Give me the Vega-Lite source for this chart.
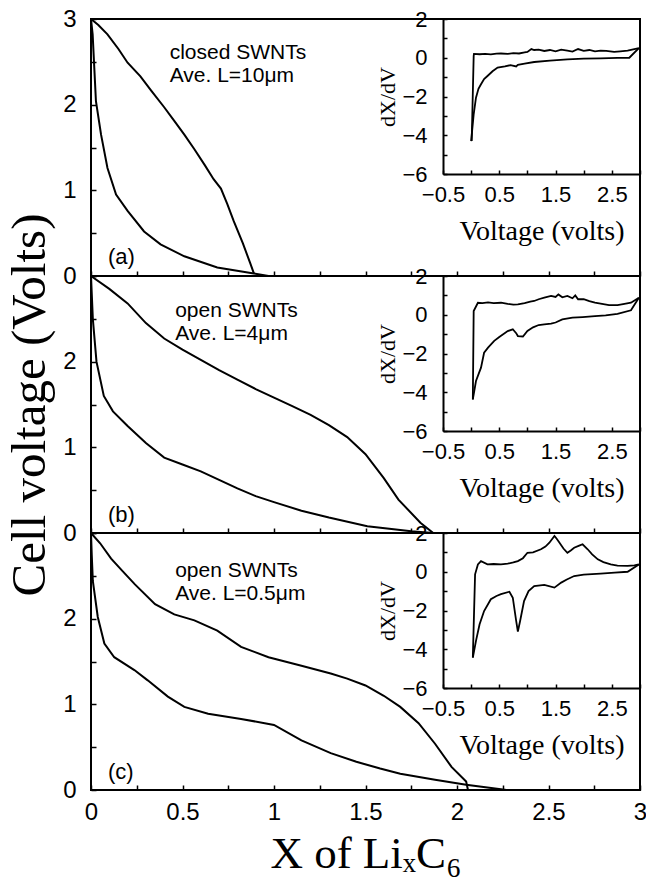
{
  "$schema": "https://vega.github.io/schema/vega-lite/v6.json",
  "background": "white",
  "padding": {"left": 4, "top": 6, "right": 0, "bottom": 0},
  "spacing": 0,
  "bounds": "flush",
  "config": {
    "view": {"stroke": "black", "strokeWidth": 2},
    "axis": {"grid": false, "domainColor": "black", "tickColor": "black", "labelColor": "black", "titleColor": "black", "labelFont": "Liberation Sans", "titleFont": "Liberation Serif", "titleFontWeight": "normal", "domainWidth": 2, "tickWidth": 1.5, "labelFlush": false, "labelOverlap": false, "format": "~g"},
    "line": {"color": "black", "strokeWidth": 2},
    "text": {"font": "Liberation Sans", "color": "black"}
  },
  "datasets": {
    "main": [
      {"panel": "a", "curve": "up", "x": 0, "y": 3}, {"panel": "a", "curve": "up", "x": 0.04, "y": 2.93}, {"panel": "a", "curve": "up", "x": 0.09, "y": 2.82}, {"panel": "a", "curve": "up", "x": 0.15, "y": 2.65}, {"panel": "a", "curve": "up", "x": 0.2, "y": 2.49}, {"panel": "a", "curve": "up", "x": 0.27, "y": 2.33}, {"panel": "a", "curve": "up", "x": 0.33, "y": 2.16}, {"panel": "a", "curve": "up", "x": 0.4, "y": 1.97}, {"panel": "a", "curve": "up", "x": 0.455, "y": 1.81}, {"panel": "a", "curve": "up", "x": 0.51, "y": 1.65}, {"panel": "a", "curve": "up", "x": 0.565, "y": 1.48}, {"panel": "a", "curve": "up", "x": 0.62, "y": 1.3}, {"panel": "a", "curve": "up", "x": 0.67, "y": 1.13}, {"panel": "a", "curve": "up", "x": 0.71, "y": 1.02}, {"panel": "a", "curve": "up", "x": 0.745, "y": 0.84}, {"panel": "a", "curve": "up", "x": 0.78, "y": 0.64}, {"panel": "a", "curve": "up", "x": 0.83, "y": 0.38}, {"panel": "a", "curve": "up", "x": 0.87, "y": 0.15}, {"panel": "a", "curve": "up", "x": 0.89, "y": 0.03},
      {"panel": "a", "curve": "low", "x": 0, "y": 3}, {"panel": "a", "curve": "low", "x": 0.009, "y": 2.82}, {"panel": "a", "curve": "low", "x": 0.018, "y": 2.43}, {"panel": "a", "curve": "low", "x": 0.027, "y": 2.04}, {"panel": "a", "curve": "low", "x": 0.055, "y": 1.65}, {"panel": "a", "curve": "low", "x": 0.09, "y": 1.26}, {"panel": "a", "curve": "low", "x": 0.137, "y": 0.95}, {"panel": "a", "curve": "low", "x": 0.2, "y": 0.76}, {"panel": "a", "curve": "low", "x": 0.29, "y": 0.52}, {"panel": "a", "curve": "low", "x": 0.38, "y": 0.37}, {"panel": "a", "curve": "low", "x": 0.51, "y": 0.23}, {"panel": "a", "curve": "low", "x": 0.69, "y": 0.1}, {"panel": "a", "curve": "low", "x": 0.89, "y": 0.03}, {"panel": "a", "curve": "low", "x": 0.97, "y": 0.0},
      {"panel": "b", "curve": "up", "x": 0, "y": 3}, {"panel": "b", "curve": "up", "x": 0.1, "y": 2.85}, {"panel": "b", "curve": "up", "x": 0.2, "y": 2.68}, {"panel": "b", "curve": "up", "x": 0.3, "y": 2.45}, {"panel": "b", "curve": "up", "x": 0.4, "y": 2.27}, {"panel": "b", "curve": "up", "x": 0.5, "y": 2.14}, {"panel": "b", "curve": "up", "x": 0.6, "y": 2.02}, {"panel": "b", "curve": "up", "x": 0.7, "y": 1.9}, {"panel": "b", "curve": "up", "x": 0.8, "y": 1.79}, {"panel": "b", "curve": "up", "x": 0.9, "y": 1.68}, {"panel": "b", "curve": "up", "x": 1.0, "y": 1.58}, {"panel": "b", "curve": "up", "x": 1.1, "y": 1.48}, {"panel": "b", "curve": "up", "x": 1.2, "y": 1.38}, {"panel": "b", "curve": "up", "x": 1.3, "y": 1.26}, {"panel": "b", "curve": "up", "x": 1.4, "y": 1.12}, {"panel": "b", "curve": "up", "x": 1.5, "y": 0.92}, {"panel": "b", "curve": "up", "x": 1.6, "y": 0.64}, {"panel": "b", "curve": "up", "x": 1.68, "y": 0.39}, {"panel": "b", "curve": "up", "x": 1.8, "y": 0.12}, {"panel": "b", "curve": "up", "x": 1.87, "y": 0.0},
      {"panel": "b", "curve": "low", "x": 0, "y": 3}, {"panel": "b", "curve": "low", "x": 0.01, "y": 2.5}, {"panel": "b", "curve": "low", "x": 0.03, "y": 2.0}, {"panel": "b", "curve": "low", "x": 0.07, "y": 1.6}, {"panel": "b", "curve": "low", "x": 0.12, "y": 1.42}, {"panel": "b", "curve": "low", "x": 0.2, "y": 1.25}, {"panel": "b", "curve": "low", "x": 0.3, "y": 1.05}, {"panel": "b", "curve": "low", "x": 0.4, "y": 0.88}, {"panel": "b", "curve": "low", "x": 0.5, "y": 0.8}, {"panel": "b", "curve": "low", "x": 0.6, "y": 0.72}, {"panel": "b", "curve": "low", "x": 0.7, "y": 0.62}, {"panel": "b", "curve": "low", "x": 0.8, "y": 0.52}, {"panel": "b", "curve": "low", "x": 0.9, "y": 0.43}, {"panel": "b", "curve": "low", "x": 1.0, "y": 0.36}, {"panel": "b", "curve": "low", "x": 1.15, "y": 0.26}, {"panel": "b", "curve": "low", "x": 1.3, "y": 0.18}, {"panel": "b", "curve": "low", "x": 1.51, "y": 0.08}, {"panel": "b", "curve": "low", "x": 1.75, "y": 0.02}, {"panel": "b", "curve": "low", "x": 1.87, "y": 0.0},
      {"panel": "c", "curve": "up", "x": 0, "y": 3}, {"panel": "c", "curve": "up", "x": 0.05, "y": 2.88}, {"panel": "c", "curve": "up", "x": 0.11, "y": 2.7}, {"panel": "c", "curve": "up", "x": 0.17, "y": 2.56}, {"panel": "c", "curve": "up", "x": 0.24, "y": 2.4}, {"panel": "c", "curve": "up", "x": 0.35, "y": 2.17}, {"panel": "c", "curve": "up", "x": 0.455, "y": 2.05}, {"panel": "c", "curve": "up", "x": 0.565, "y": 1.98}, {"panel": "c", "curve": "up", "x": 0.69, "y": 1.86}, {"panel": "c", "curve": "up", "x": 0.82, "y": 1.67}, {"panel": "c", "curve": "up", "x": 0.97, "y": 1.55}, {"panel": "c", "curve": "up", "x": 1.15, "y": 1.45}, {"panel": "c", "curve": "up", "x": 1.31, "y": 1.36}, {"panel": "c", "curve": "up", "x": 1.4, "y": 1.3}, {"panel": "c", "curve": "up", "x": 1.5, "y": 1.22}, {"panel": "c", "curve": "up", "x": 1.6, "y": 1.1}, {"panel": "c", "curve": "up", "x": 1.69, "y": 0.97}, {"panel": "c", "curve": "up", "x": 1.79, "y": 0.78}, {"panel": "c", "curve": "up", "x": 1.88, "y": 0.54}, {"panel": "c", "curve": "up", "x": 1.97, "y": 0.27}, {"panel": "c", "curve": "up", "x": 2.05, "y": 0.1}, {"panel": "c", "curve": "up", "x": 2.06, "y": 0.0},
      {"panel": "c", "curve": "low", "x": 0, "y": 3}, {"panel": "c", "curve": "low", "x": 0.004, "y": 2.75}, {"panel": "c", "curve": "low", "x": 0.01, "y": 2.44}, {"panel": "c", "curve": "low", "x": 0.037, "y": 2.02}, {"panel": "c", "curve": "low", "x": 0.073, "y": 1.71}, {"panel": "c", "curve": "low", "x": 0.127, "y": 1.55}, {"panel": "c", "curve": "low", "x": 0.237, "y": 1.4}, {"panel": "c", "curve": "low", "x": 0.31, "y": 1.28}, {"panel": "c", "curve": "low", "x": 0.42, "y": 1.09}, {"panel": "c", "curve": "low", "x": 0.51, "y": 0.97}, {"panel": "c", "curve": "low", "x": 0.64, "y": 0.89}, {"panel": "c", "curve": "low", "x": 0.82, "y": 0.83}, {"panel": "c", "curve": "low", "x": 1.0, "y": 0.76}, {"panel": "c", "curve": "low", "x": 1.15, "y": 0.58}, {"panel": "c", "curve": "low", "x": 1.31, "y": 0.43}, {"panel": "c", "curve": "low", "x": 1.45, "y": 0.33}, {"panel": "c", "curve": "low", "x": 1.58, "y": 0.25}, {"panel": "c", "curve": "low", "x": 1.69, "y": 0.19}, {"panel": "c", "curve": "low", "x": 1.88, "y": 0.12}, {"panel": "c", "curve": "low", "x": 2.05, "y": 0.06}, {"panel": "c", "curve": "low", "x": 2.24, "y": 0.01}, {"panel": "c", "curve": "low", "x": 2.27, "y": 0.0}
    ],
    "inset": [
      {"panel": "a", "branch": "up", "v": 0.01, "d": -4.3}, {"panel": "a", "branch": "up", "v": 0.045, "d": 0.09}, {"panel": "a", "branch": "up", "v": 0.05, "d": 0.2}, {"panel": "a", "branch": "up", "v": 0.15, "d": 0.18}, {"panel": "a", "branch": "up", "v": 0.25, "d": 0.2}, {"panel": "a", "branch": "up", "v": 0.35, "d": 0.17}, {"panel": "a", "branch": "up", "v": 0.45, "d": 0.21}, {"panel": "a", "branch": "up", "v": 0.53, "d": 0.22}, {"panel": "a", "branch": "up", "v": 0.65, "d": 0.2}, {"panel": "a", "branch": "up", "v": 0.75, "d": 0.24}, {"panel": "a", "branch": "up", "v": 0.85, "d": 0.22}, {"panel": "a", "branch": "up", "v": 0.95, "d": 0.28}, {"panel": "a", "branch": "up", "v": 1.0, "d": 0.3}, {"panel": "a", "branch": "up", "v": 1.07, "d": 0.45}, {"panel": "a", "branch": "up", "v": 1.12, "d": 0.4}, {"panel": "a", "branch": "up", "v": 1.2, "d": 0.42}, {"panel": "a", "branch": "up", "v": 1.3, "d": 0.35}, {"panel": "a", "branch": "up", "v": 1.4, "d": 0.4}, {"panel": "a", "branch": "up", "v": 1.5, "d": 0.33}, {"panel": "a", "branch": "up", "v": 1.6, "d": 0.42}, {"panel": "a", "branch": "up", "v": 1.71, "d": 0.37}, {"panel": "a", "branch": "up", "v": 1.8, "d": 0.32}, {"panel": "a", "branch": "up", "v": 1.9, "d": 0.45}, {"panel": "a", "branch": "up", "v": 2.0, "d": 0.36}, {"panel": "a", "branch": "up", "v": 2.1, "d": 0.4}, {"panel": "a", "branch": "up", "v": 2.2, "d": 0.33}, {"panel": "a", "branch": "up", "v": 2.3, "d": 0.37}, {"panel": "a", "branch": "up", "v": 2.4, "d": 0.35}, {"panel": "a", "branch": "up", "v": 2.54, "d": 0.3}, {"panel": "a", "branch": "up", "v": 2.65, "d": 0.33}, {"panel": "a", "branch": "up", "v": 2.78, "d": 0.37}, {"panel": "a", "branch": "up", "v": 2.9, "d": 0.45}, {"panel": "a", "branch": "up", "v": 2.98, "d": 0.5},
      {"panel": "a", "branch": "low", "v": 0.0, "d": -4.3}, {"panel": "a", "branch": "low", "v": 0.045, "d": -2.92}, {"panel": "a", "branch": "low", "v": 0.086, "d": -2.06}, {"panel": "a", "branch": "low", "v": 0.13, "d": -1.6}, {"panel": "a", "branch": "low", "v": 0.175, "d": -1.37}, {"panel": "a", "branch": "low", "v": 0.23, "d": -1.1}, {"panel": "a", "branch": "low", "v": 0.29, "d": -0.94}, {"panel": "a", "branch": "low", "v": 0.38, "d": -0.7}, {"panel": "a", "branch": "low", "v": 0.47, "d": -0.51}, {"panel": "a", "branch": "low", "v": 0.6, "d": -0.45}, {"panel": "a", "branch": "low", "v": 0.7, "d": -0.38}, {"panel": "a", "branch": "low", "v": 0.8, "d": -0.45}, {"panel": "a", "branch": "low", "v": 0.83, "d": -0.37}, {"panel": "a", "branch": "low", "v": 0.95, "d": -0.3}, {"panel": "a", "branch": "low", "v": 1.12, "d": -0.22}, {"panel": "a", "branch": "low", "v": 1.4, "d": -0.15}, {"panel": "a", "branch": "low", "v": 1.71, "d": -0.08}, {"panel": "a", "branch": "low", "v": 2.0, "d": -0.05}, {"panel": "a", "branch": "low", "v": 2.3, "d": -0.03}, {"panel": "a", "branch": "low", "v": 2.6, "d": -0.01}, {"panel": "a", "branch": "low", "v": 2.81, "d": 0.0}, {"panel": "a", "branch": "low", "v": 2.98, "d": 0.5},
      {"panel": "b", "branch": "up", "v": 0.03, "d": -4.37}, {"panel": "b", "branch": "up", "v": 0.045, "d": 0.19}, {"panel": "b", "branch": "up", "v": 0.12, "d": 0.62}, {"panel": "b", "branch": "up", "v": 0.2, "d": 0.6}, {"panel": "b", "branch": "up", "v": 0.3, "d": 0.64}, {"panel": "b", "branch": "up", "v": 0.4, "d": 0.6}, {"panel": "b", "branch": "up", "v": 0.53, "d": 0.62}, {"panel": "b", "branch": "up", "v": 0.65, "d": 0.56}, {"panel": "b", "branch": "up", "v": 0.75, "d": 0.52}, {"panel": "b", "branch": "up", "v": 0.83, "d": 0.54}, {"panel": "b", "branch": "up", "v": 0.95, "d": 0.6}, {"panel": "b", "branch": "up", "v": 1.05, "d": 0.68}, {"panel": "b", "branch": "up", "v": 1.12, "d": 0.71}, {"panel": "b", "branch": "up", "v": 1.2, "d": 0.8}, {"panel": "b", "branch": "up", "v": 1.3, "d": 0.88}, {"panel": "b", "branch": "up", "v": 1.42, "d": 0.97}, {"panel": "b", "branch": "up", "v": 1.5, "d": 0.92}, {"panel": "b", "branch": "up", "v": 1.55, "d": 1.05}, {"panel": "b", "branch": "up", "v": 1.62, "d": 0.9}, {"panel": "b", "branch": "up", "v": 1.71, "d": 0.97}, {"panel": "b", "branch": "up", "v": 1.8, "d": 0.85}, {"panel": "b", "branch": "up", "v": 1.85, "d": 1.0}, {"panel": "b", "branch": "up", "v": 1.9, "d": 0.8}, {"panel": "b", "branch": "up", "v": 2.0, "d": 0.8}, {"panel": "b", "branch": "up", "v": 2.1, "d": 0.7}, {"panel": "b", "branch": "up", "v": 2.2, "d": 0.62}, {"panel": "b", "branch": "up", "v": 2.3, "d": 0.57}, {"panel": "b", "branch": "up", "v": 2.45, "d": 0.5}, {"panel": "b", "branch": "up", "v": 2.6, "d": 0.5}, {"panel": "b", "branch": "up", "v": 2.7, "d": 0.55}, {"panel": "b", "branch": "up", "v": 2.84, "d": 0.62}, {"panel": "b", "branch": "up", "v": 2.98, "d": 0.88},
      {"panel": "b", "branch": "low", "v": 0.03, "d": -4.37}, {"panel": "b", "branch": "low", "v": 0.086, "d": -3.42}, {"panel": "b", "branch": "low", "v": 0.175, "d": -2.73}, {"panel": "b", "branch": "low", "v": 0.23, "d": -1.96}, {"panel": "b", "branch": "low", "v": 0.3, "d": -1.7}, {"panel": "b", "branch": "low", "v": 0.41, "d": -1.35}, {"panel": "b", "branch": "low", "v": 0.5, "d": -1.15}, {"panel": "b", "branch": "low", "v": 0.65, "d": -0.84}, {"panel": "b", "branch": "low", "v": 0.74, "d": -0.75}, {"panel": "b", "branch": "low", "v": 0.8, "d": -0.95}, {"panel": "b", "branch": "low", "v": 0.83, "d": -1.1}, {"panel": "b", "branch": "low", "v": 0.92, "d": -1.12}, {"panel": "b", "branch": "low", "v": 1.0, "d": -0.84}, {"panel": "b", "branch": "low", "v": 1.1, "d": -0.65}, {"panel": "b", "branch": "low", "v": 1.2, "d": -0.53}, {"panel": "b", "branch": "low", "v": 1.3, "d": -0.5}, {"panel": "b", "branch": "low", "v": 1.42, "d": -0.46}, {"panel": "b", "branch": "low", "v": 1.5, "d": -0.4}, {"panel": "b", "branch": "low", "v": 1.62, "d": -0.24}, {"panel": "b", "branch": "low", "v": 1.8, "d": -0.15}, {"panel": "b", "branch": "low", "v": 1.98, "d": -0.12}, {"panel": "b", "branch": "low", "v": 2.2, "d": -0.07}, {"panel": "b", "branch": "low", "v": 2.39, "d": -0.03}, {"panel": "b", "branch": "low", "v": 2.6, "d": 0.05}, {"panel": "b", "branch": "low", "v": 2.84, "d": 0.23}, {"panel": "b", "branch": "low", "v": 2.98, "d": 0.88},
      {"panel": "c", "branch": "up", "v": 0.03, "d": -4.43}, {"panel": "c", "branch": "up", "v": 0.07, "d": -0.13}, {"panel": "c", "branch": "up", "v": 0.12, "d": 0.38}, {"panel": "c", "branch": "up", "v": 0.175, "d": 0.55}, {"panel": "c", "branch": "up", "v": 0.29, "d": 0.38}, {"panel": "c", "branch": "up", "v": 0.4, "d": 0.4}, {"panel": "c", "branch": "up", "v": 0.53, "d": 0.38}, {"panel": "c", "branch": "up", "v": 0.65, "d": 0.42}, {"panel": "c", "branch": "up", "v": 0.75, "d": 0.48}, {"panel": "c", "branch": "up", "v": 0.83, "d": 0.55}, {"panel": "c", "branch": "up", "v": 0.92, "d": 0.7}, {"panel": "c", "branch": "up", "v": 1.0, "d": 0.98}, {"panel": "c", "branch": "up", "v": 1.1, "d": 1.0}, {"panel": "c", "branch": "up", "v": 1.24, "d": 1.16}, {"panel": "c", "branch": "up", "v": 1.32, "d": 1.3}, {"panel": "c", "branch": "up", "v": 1.39, "d": 1.5}, {"panel": "c", "branch": "up", "v": 1.48, "d": 1.85}, {"panel": "c", "branch": "up", "v": 1.52, "d": 1.7}, {"panel": "c", "branch": "up", "v": 1.57, "d": 1.5}, {"panel": "c", "branch": "up", "v": 1.64, "d": 1.2}, {"panel": "c", "branch": "up", "v": 1.71, "d": 0.98}, {"panel": "c", "branch": "up", "v": 1.77, "d": 1.1}, {"panel": "c", "branch": "up", "v": 1.83, "d": 1.24}, {"panel": "c", "branch": "up", "v": 1.92, "d": 1.35}, {"panel": "c", "branch": "up", "v": 1.98, "d": 1.42}, {"panel": "c", "branch": "up", "v": 2.07, "d": 1.16}, {"panel": "c", "branch": "up", "v": 2.15, "d": 0.9}, {"panel": "c", "branch": "up", "v": 2.25, "d": 0.64}, {"panel": "c", "branch": "up", "v": 2.35, "d": 0.5}, {"panel": "c", "branch": "up", "v": 2.48, "d": 0.38}, {"panel": "c", "branch": "up", "v": 2.6, "d": 0.32}, {"panel": "c", "branch": "up", "v": 2.78, "d": 0.3}, {"panel": "c", "branch": "up", "v": 2.9, "d": 0.33}, {"panel": "c", "branch": "up", "v": 2.98, "d": 0.38},
      {"panel": "c", "branch": "low", "v": 0.03, "d": -4.43}, {"panel": "c", "branch": "low", "v": 0.086, "d": -3.57}, {"panel": "c", "branch": "low", "v": 0.15, "d": -2.71}, {"panel": "c", "branch": "low", "v": 0.23, "d": -2.03}, {"panel": "c", "branch": "low", "v": 0.35, "d": -1.42}, {"panel": "c", "branch": "low", "v": 0.45, "d": -1.25}, {"panel": "c", "branch": "low", "v": 0.53, "d": -1.16}, {"panel": "c", "branch": "low", "v": 0.68, "d": -1.03}, {"panel": "c", "branch": "low", "v": 0.74, "d": -1.34}, {"panel": "c", "branch": "low", "v": 0.8, "d": -2.54}, {"panel": "c", "branch": "low", "v": 0.83, "d": -3.09}, {"panel": "c", "branch": "low", "v": 0.87, "d": -2.54}, {"panel": "c", "branch": "low", "v": 0.94, "d": -1.51}, {"panel": "c", "branch": "low", "v": 1.02, "d": -1.0}, {"panel": "c", "branch": "low", "v": 1.12, "d": -0.74}, {"panel": "c", "branch": "low", "v": 1.3, "d": -0.68}, {"panel": "c", "branch": "low", "v": 1.48, "d": -0.82}, {"panel": "c", "branch": "low", "v": 1.6, "d": -0.56}, {"panel": "c", "branch": "low", "v": 1.7, "d": -0.4}, {"panel": "c", "branch": "low", "v": 1.83, "d": -0.22}, {"panel": "c", "branch": "low", "v": 2.0, "d": -0.15}, {"panel": "c", "branch": "low", "v": 2.3, "d": -0.1}, {"panel": "c", "branch": "low", "v": 2.55, "d": -0.05}, {"panel": "c", "branch": "low", "v": 2.78, "d": 0.0}, {"panel": "c", "branch": "low", "v": 2.98, "d": 0.38}
    ],
    "notes": [
      {"panel": "a", "note": "closed SWNTs\nAve. L=10μm", "tag": "(a)"},
      {"panel": "b", "note": "open SWNTs\nAve. L=4μm", "tag": "(b)"},
      {"panel": "c", "note": "open SWNTs\nAve. L=0.5μm", "tag": "(c)"}
    ]
  },
  "vconcat": [
    {
      "width": 549, "height": 257,
      "resolve": {"scale": {"x": "independent", "y": "independent"}, "axis": {"x": "independent", "y": "independent"}},
      "layer": [
        {
          "layer": [
            {
              "data": {"name": "main"},
              "transform": [{"filter": "datum.panel == 'a'"}],
              "mark": {"type": "line"},
              "encoding": {
                "x": {"field": "x", "type": "quantitative", "scale": {"domain": [0, 3], "nice": false}, "axis": {"orient": "bottom", "values": [0, 0.25, 0.5, 0.75, 1, 1.25, 1.5, 1.75, 2, 2.25, 2.5, 2.75, 3], "labels": false, "tickSize": -5, "domain": false, "title": null}},
                "y": {"field": "y", "type": "quantitative", "scale": {"domain": [0, 3], "nice": false}, "axis": {"orient": "left", "values": [0, 0.5, 1, 1.5, 2, 2.5, 3], "labelExpr": "datum.value % 1 == 0 ? datum.label : ''", "tickSize": -5, "domain": false, "labelFontSize": 24, "labelPadding": 20, "title": null}},
                "detail": {"field": "curve"}
              }
            },
            {
              "data": {"name": "notes"},
              "transform": [{"filter": "datum.panel == 'a'"}],
              "mark": {"type": "text", "align": "left", "baseline": "middle", "fontSize": 21, "lineBreak": "\n", "lineHeight": 23},
              "encoding": {"x": {"datum": 0.43}, "y": {"datum": 2.6}, "text": {"field": "note"}}
            },
            {
              "data": {"name": "notes"},
              "transform": [{"filter": "datum.panel == 'a'"}],
              "mark": {"type": "text", "align": "left", "baseline": "middle", "fontSize": 22},
              "encoding": {"x": {"datum": 0.093}, "y": {"datum": 0.22}, "text": {"field": "tag"}}
            }
          ]
        },
        {
          "data": {"name": "inset"},
          "transform": [{"filter": "datum.panel == 'a'"}],
          "mark": {"type": "line", "strokeWidth": 1.8},
          "encoding": {
            "x": {"field": "v", "type": "quantitative", "scale": {"domain": [-0.5, 3], "range": [352, 549], "nice": false, "zero": false}, "axis": {"orient": "bottom", "offset": -102, "values": [-0.5, 0, 0.5, 1, 1.5, 2, 2.5, 3], "labelExpr": "(datum.value + 0.5) % 1 == 0 ? datum.label : ''", "tickSize": -4, "labelFontSize": 22, "labelPadding": 14, "title": "Voltage (volts)", "titleFontSize": 28, "titlePadding": 12}},
            "y": {"field": "d", "type": "quantitative", "scale": {"domain": [-6, 2], "range": [155, 0], "nice": false, "zero": false}, "axis": {"orient": "left", "offset": -352, "values": [-6, -5, -4, -3, -2, -1, 0, 1, 2], "labelExpr": "datum.value % 2 == 0 ? datum.label : ''", "tickSize": -4, "labelFontSize": 22, "labelPadding": 20, "title": "dX/dV", "titleFontSize": 22, "titlePadding": 2}},
            "detail": {"field": "branch"}
          }
        }
      ]
    },
    {
      "width": 549, "height": 257,
      "resolve": {"scale": {"x": "independent", "y": "independent"}, "axis": {"x": "independent", "y": "independent"}},
      "layer": [
        {
          "layer": [
            {
              "data": {"name": "main"},
              "transform": [{"filter": "datum.panel == 'b'"}],
              "mark": {"type": "line"},
              "encoding": {
                "x": {"field": "x", "type": "quantitative", "scale": {"domain": [0, 3], "nice": false}, "axis": {"orient": "bottom", "values": [0, 0.25, 0.5, 0.75, 1, 1.25, 1.5, 1.75, 2, 2.25, 2.5, 2.75, 3], "labels": false, "tickSize": -5, "domain": false, "title": null}},
                "y": {"field": "y", "type": "quantitative", "scale": {"domain": [0, 3], "nice": false}, "axis": {"orient": "left", "values": [0, 0.5, 1, 1.5, 2, 2.5, 3], "labelExpr": "datum.value % 1 == 0 && datum.value < 3 ? datum.label : ''", "tickSize": -5, "domain": false, "labelFontSize": 24, "labelPadding": 20, "title": "Cell voltage (Volts)", "titleFontSize": 49, "titlePadding": 8}},
                "detail": {"field": "curve"}
              }
            },
            {
              "data": {"name": "notes"},
              "transform": [{"filter": "datum.panel == 'b'"}],
              "mark": {"type": "text", "align": "left", "baseline": "middle", "fontSize": 21, "lineBreak": "\n", "lineHeight": 23},
              "encoding": {"x": {"datum": 0.46}, "y": {"datum": 2.59}, "text": {"field": "note"}}
            },
            {
              "data": {"name": "notes"},
              "transform": [{"filter": "datum.panel == 'b'"}],
              "mark": {"type": "text", "align": "left", "baseline": "middle", "fontSize": 22},
              "encoding": {"x": {"datum": 0.093}, "y": {"datum": 0.21}, "text": {"field": "tag"}}
            }
          ]
        },
        {
          "data": {"name": "inset"},
          "transform": [{"filter": "datum.panel == 'b'"}],
          "mark": {"type": "line", "strokeWidth": 1.8},
          "encoding": {
            "x": {"field": "v", "type": "quantitative", "scale": {"domain": [-0.5, 3], "range": [352, 549], "nice": false, "zero": false}, "axis": {"orient": "bottom", "offset": -102, "values": [-0.5, 0, 0.5, 1, 1.5, 2, 2.5, 3], "labelExpr": "(datum.value + 0.5) % 1 == 0 ? datum.label : ''", "tickSize": -4, "labelFontSize": 22, "labelPadding": 14, "title": "Voltage (volts)", "titleFontSize": 28, "titlePadding": 12}},
            "y": {"field": "d", "type": "quantitative", "scale": {"domain": [-6, 2], "range": [155, 0], "nice": false, "zero": false}, "axis": {"orient": "left", "offset": -352, "values": [-6, -5, -4, -3, -2, -1, 0, 1, 2], "labelExpr": "datum.value % 2 == 0 ? datum.label : ''", "tickSize": -4, "labelFontSize": 22, "labelPadding": 20, "title": "dX/dV", "titleFontSize": 22, "titlePadding": 2}},
            "detail": {"field": "branch"}
          }
        }
      ]
    },
    {
      "width": 549, "height": 257,
      "resolve": {"scale": {"x": "independent", "y": "independent"}, "axis": {"x": "independent", "y": "independent"}},
      "layer": [
        {
          "layer": [
            {
              "data": {"name": "main"},
              "transform": [{"filter": "datum.panel == 'c'"}],
              "mark": {"type": "line"},
              "encoding": {
                "x": {"field": "x", "type": "quantitative", "scale": {"domain": [0, 3], "nice": false}, "axis": {"orient": "bottom", "values": [0, 0.25, 0.5, 0.75, 1, 1.25, 1.5, 1.75, 2, 2.25, 2.5, 2.75, 3], "labelExpr": "datum.value % 0.5 == 0 ? datum.label : ''", "tickSize": -5, "domain": false, "labelFontSize": 24, "labelPadding": 15, "title": "X of LiₓC₆", "titleFontSize": 45, "titlePadding": 7}},
                "y": {"field": "y", "type": "quantitative", "scale": {"domain": [0, 3], "nice": false}, "axis": {"orient": "left", "values": [0, 0.5, 1, 1.5, 2, 2.5, 3], "labelExpr": "datum.value % 1 == 0 && datum.value < 3 ? datum.label : ''", "tickSize": -5, "domain": false, "labelFontSize": 24, "labelPadding": 20, "title": null}},
                "detail": {"field": "curve"}
              }
            },
            {
              "data": {"name": "notes"},
              "transform": [{"filter": "datum.panel == 'c'"}],
              "mark": {"type": "text", "align": "left", "baseline": "middle", "fontSize": 21, "lineBreak": "\n", "lineHeight": 23},
              "encoding": {"x": {"datum": 0.46}, "y": {"datum": 2.56}, "text": {"field": "note"}}
            },
            {
              "data": {"name": "notes"},
              "transform": [{"filter": "datum.panel == 'c'"}],
              "mark": {"type": "text", "align": "left", "baseline": "middle", "fontSize": 22},
              "encoding": {"x": {"datum": 0.093}, "y": {"datum": 0.21}, "text": {"field": "tag"}}
            }
          ]
        },
        {
          "data": {"name": "inset"},
          "transform": [{"filter": "datum.panel == 'c'"}],
          "mark": {"type": "line", "strokeWidth": 1.8},
          "encoding": {
            "x": {"field": "v", "type": "quantitative", "scale": {"domain": [-0.5, 3], "range": [352, 549], "nice": false, "zero": false}, "axis": {"orient": "bottom", "offset": -102, "values": [-0.5, 0, 0.5, 1, 1.5, 2, 2.5, 3], "labelExpr": "(datum.value + 0.5) % 1 == 0 ? datum.label : ''", "tickSize": -4, "labelFontSize": 22, "labelPadding": 14, "title": "Voltage (volts)", "titleFontSize": 28, "titlePadding": 12}},
            "y": {"field": "d", "type": "quantitative", "scale": {"domain": [-6, 2], "range": [155, 0], "nice": false, "zero": false}, "axis": {"orient": "left", "offset": -352, "values": [-6, -5, -4, -3, -2, -1, 0, 1, 2], "labelExpr": "datum.value % 2 == 0 ? datum.label : ''", "tickSize": -4, "labelFontSize": 22, "labelPadding": 20, "title": "dX/dV", "titleFontSize": 22, "titlePadding": 2}},
            "detail": {"field": "branch"}
          }
        }
      ]
    }
  ]
}
